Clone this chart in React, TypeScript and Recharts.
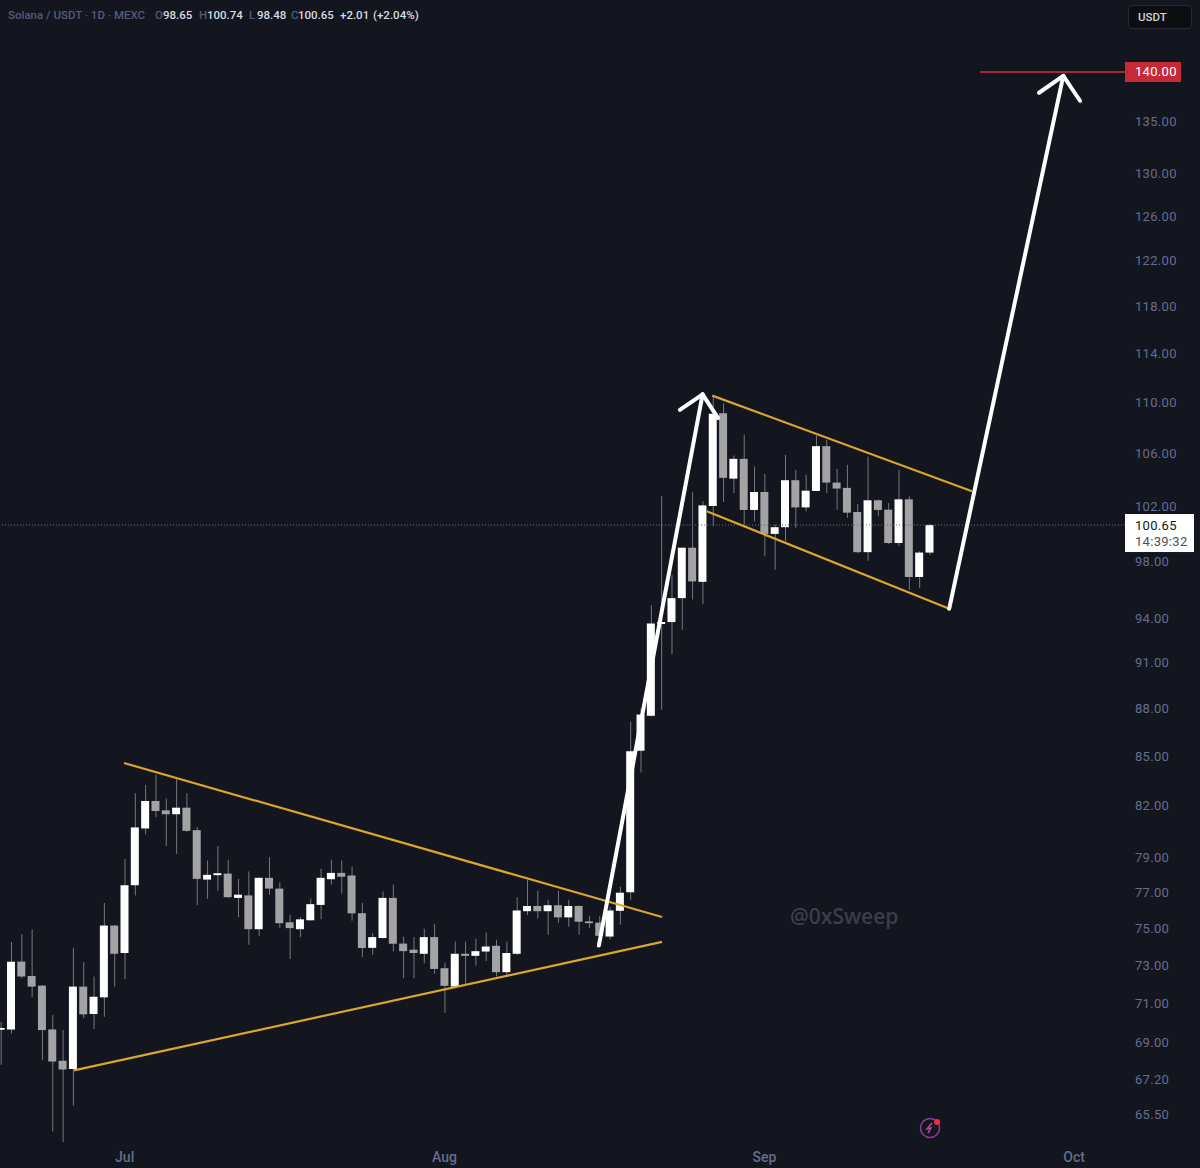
import { Bar, Cell, ComposedChart, ReferenceLine, XAxis, YAxis } from "recharts";

const BG = "#13151f";
const AXIS_TEXT = "#666d8d";
const YELLOW = "#d9a62e";
const FONT = "Roboto, sans-serif";

// daily candles, first one is 12 days before Jul 1
const firstDay = -12;
const opens = [
	69.69, 69.7, 73.23, 72.47, 71.96, 69.7, 68.13, 67.72, 71.91, 70.49,
	71.35, 75.18, 73.69, 77.42, 80.69, 82.32, 81.76, 81.53, 81.92, 80.59,
	77.74, 77.99, 78.08, 76.71, 76.85, 74.98, 77.84, 77.23, 75.36, 74.98,
	75.47, 76.32, 77.76, 78.12, 77.97, 75.86, 73.97, 74.5, 76.71, 74.2,
	73.87, 73.65, 74.55, 72.88, 71.91, 73.65, 73.54, 73.77, 74.08, 72.67,
	73.65, 75.97, 76.26, 75.97, 76.3, 75.63, 76.26, 75.41, 75.34, 74.58,
	75.99, 77.02, 85.39, 87.6, 93.65, 93.78, 95.43, 99, 96.57, 102.05,
	109.19, 104.11, 105.62, 101.76, 103.1, 100, 100.49, 103.99, 101.95, 103.18,
	106.6, 103.81, 103.41, 101.61, 98.68, 102.48, 101.78, 99.34, 102.55, 96.91,
	98.65,
];
const highs = [
	70.09, 74.28, 74.71, 74.98, 72.0, 70.44, 69.67, 73.96, 73.2, 72.44,
	76.42, 75.2, 78.92, 82.78, 83.29, 83.9, 82.47, 83.64, 82.78, 80.78,
	78.83, 79.66, 78.87, 77.78, 78.2, 77.86, 79.02, 77.59, 75.76, 75.63,
	76.68, 78.35, 78.87, 78.83, 78.49, 76.42, 74.77, 77.07, 77.46, 74.58,
	74.55, 75, 75.27, 73.18, 74.31, 74.31, 74.46, 74.8, 74.4, 74.31,
	76.75, 77.72, 77.11, 76.6, 77.11, 76.6, 76.3, 75.7, 75.7, 76.2,
	77.34, 87.21, 88.08, 94.93, 102.78, 97.07, 99.02, 103.08, 102.4, 110.64,
	109.98, 105.87, 107.49, 105.04, 104.46, 100.69, 105.92, 104.79, 104.41, 107.44,
	107.1, 104.87, 105.17, 102.2, 105.8, 102.53, 102.27, 104.79, 102.78, 98.75,
	100.74,
];
const lows = [
	67.93, 69.5, 72.35, 71.35, 68.17, 64.71, 64.2, 65.94, 70.27, 69.72,
	70.35, 71.91, 72.3, 76.84, 80.34, 81.37, 79.65, 79.22, 80.5, 76.3,
	76.66, 77.11, 76.72, 75.63, 74.13, 74.62, 76.89, 75.04, 73.37, 74.55,
	75.44, 75.52, 77.46, 76.96, 75.45, 73.47, 73.6, 74.47, 73.77, 72.35,
	72.35, 73.15, 72.58, 70.55, 71.88, 72.05, 73.02, 73.27, 72.44, 72.44,
	73.58, 75.76, 75.57, 74.68, 75.34, 75.12, 74.68, 75.04, 74.04, 74.44,
	75.22, 76.6, 84.04, 87.55, 87.98, 91.6, 93.25, 95.34, 95, 100.56,
	102.36, 103.03, 100.69, 100.93, 98.39, 97.43, 99.48, 100.44, 101.66, 103.15,
	103.03, 101.78, 101.18, 98.6, 98.07, 101.3, 99.25, 99.12, 96, 96.14,
	98.48,
];
const closes = [
	69.77, 73.23, 72.44, 71.91, 69.67, 68.09, 67.69, 71.91, 70.47, 71.38,
	75.18, 73.65, 77.42, 80.75, 82.32, 81.72, 81.53, 81.92, 80.55, 77.78,
	78.01, 78.1, 76.75, 76.89, 74.98, 77.84, 77.23, 75.31, 75.04, 75.52,
	76.36, 77.84, 78.12, 77.9, 75.85, 73.96, 74.55, 76.71, 74.19, 73.79,
	73.69, 74.55, 72.84, 71.95, 73.65, 73.54, 73.79, 74.04, 72.67, 73.69,
	76.01, 76.26, 75.97, 76.3, 75.63, 76.26, 75.39, 75.31, 74.62, 76.01,
	77, 85.36, 87.67, 93.69, 93.78, 95.43, 99, 96.6, 102.1, 109.14,
	104.17, 105.62, 101.76, 103.1, 100, 100.49, 103.99, 101.95, 103.2, 106.6,
	103.81, 103.36, 101.56, 98.68, 102.48, 101.76, 99.34, 102.55, 96.91, 98.65,
	100.65,
];

const priceTicks = [
	140, 135, 130, 126, 122, 118, 114, 110, 106, 102, 98, 94, 91, 88, 85, 82, 79,
	77, 75, 73, 71, 69, 67.2, 65.5,
];
const monthTicks = [0, 31, 62, 92];
const monthLabels = ["Jul", "Aug", "Sep", "Oct"];

// drawn lines as [day, price] pairs
const triangleTop = [[-0.07, 84.63], [52.07, 75.65]];
const triangleBottom = [[-4.91, 67.65], [52.07, 74.29]];
const channelTop = [[56.94, 110.6], [82.1, 103.15]];
const channelBottom = [[56.4, 101.66], [79.9, 94.7]];
const firstArrow = [[45.95, 74.1], [56.0, 110.7]];
const firstArrowLeft = [[53.8, 109.45], [56.0, 110.7]];
const firstArrowRight = [[57.5, 108.8], [56.0, 110.7]];
const secondArrow = [[79.9, 94.7], [90.95, 139.6]];
const secondArrowLeft = [[88.6, 137.9], [90.95, 139.6]];
const secondArrowRight = [[92.57, 137.1], [90.95, 139.6]];
const targetLine = [[82.9, 140], [96.93, 140]];

const lastPrice = 100.65;
const dayDomain = [-12.08, 96.93];
const priceDomain = [64.12, 147.54];

const candles = opens.map((open, i) => ({
	day: firstDay + i,
	body: [Math.min(open, closes[i]), Math.max(open, closes[i])],
	wick: [lows[i], highs[i]],
	up: closes[i] >= open,
}));

const seg = (pts: number[][]) =>
	pts.map((p) => ({ x: p[0], y: p[1] })) as any;

const PriceTick = ({ x, y, payload }: any) => {
	const label = payload.value.toFixed(2);
	if (payload.value === 140) {
		return (
			<g>
				<rect x={x} y={y - 10} width={56} height={20} fill="#c42a37" />
				<text x={x + 10} y={y + 4} fill="#fff" fontSize={13} letterSpacing={0.3} fontFamily={FONT}>
					{label}
				</text>
			</g>
		);
	}
	return (
		<text x={x + 10} y={y + 4} fill={AXIS_TEXT} fontSize={13} letterSpacing={0.3} fontFamily={FONT}>
			{label}
		</text>
	);
};

const LastPriceLabel = ({ viewBox }: any) => {
	const left = viewBox.x + viewBox.width;
	const y = viewBox.y;
	return (
		<g>
			<rect x={left} y={y - 11} width={69} height={38} fill="#fff" />
			<text x={left + 10} y={y + 5} fill="#131722" fontSize={13} letterSpacing={0.3} fontFamily={FONT}>
				100.65
			</text>
			<text x={left + 10} y={y + 21} fill="#4c5058" fontSize={13} letterSpacing={0.3} fontFamily={FONT}>
				14:39:32
			</text>
		</g>
	);
};

const headerPieces = [
	{ text: "Solana / USDT · 1D · MEXC", left: 8, color: "#545c7c" },
	{ text: "O", left: 155, color: "#545c7c" },
	{ text: "98.65", left: 163, color: "#d8dae2" },
	{ text: "H", left: 199, color: "#545c7c" },
	{ text: "100.74", left: 207, color: "#d8dae2" },
	{ text: "L", left: 249, color: "#545c7c" },
	{ text: "98.48", left: 257, color: "#d8dae2" },
	{ text: "C", left: 291, color: "#545c7c" },
	{ text: "100.65", left: 298, color: "#d8dae2" },
	{ text: "+2.01", left: 340, color: "#d8dae2" },
	{ text: "(+2.04%)", left: 373, color: "#d8dae2" },
];

const App = () => {
	const yellowLines = [triangleTop, triangleBottom, channelTop, channelBottom];
	const whiteLines = [
		firstArrow,
		firstArrowLeft,
		firstArrowRight,
		secondArrow,
		secondArrowLeft,
		secondArrowRight,
	];
	return (
		<div
			style={{
				position: "absolute",
				left: 0,
				top: 0,
				width: 1200,
				height: 1168,
				background: BG,
				overflow: "hidden",
			}}
		>
			<ComposedChart
				width={1200}
				height={1168}
				data={candles}
				margin={{ top: 0, right: 0, bottom: 0, left: 0 }}
			>
				<XAxis
					xAxisId="body"
					dataKey="day"
					type="number"
					domain={dayDomain}
					allowDataOverflow
					ticks={monthTicks}
					interval={0}
					tickFormatter={(d: number) => monthLabels[monthTicks.indexOf(d)]}
					axisLine={false}
					tickLine={false}
					tickSize={0}
					tickMargin={8}
					height={24}
					tick={{ fill: AXIS_TEXT, fontSize: 14, fontWeight: 500, fontFamily: FONT }}
				/>
				<XAxis
					xAxisId="wick"
					dataKey="day"
					type="number"
					domain={dayDomain}
					allowDataOverflow
					hide
				/>
				<YAxis
					orientation="right"
					scale="log"
					domain={priceDomain}
					allowDataOverflow
					ticks={priceTicks}
					interval={0}
					width={75}
					axisLine={false}
					tickLine={false}
					tickSize={0}
					tickMargin={0}
					tick={<PriceTick />}
				/>
				<Bar
					xAxisId="wick"
					dataKey="wick"
					barSize={1}
					fill="#76787f"
					isAnimationActive={false}
				/>
				<Bar
					xAxisId="body"
					dataKey="body"
					barSize={8}
					isAnimationActive={false}
				>
					{candles.map((c) => (
						<Cell key={c.day} fill={c.up ? "#ffffff" : "#a3a3a5"} />
					))}
				</Bar>
				<ReferenceLine
					xAxisId="body"
					y={lastPrice}
					stroke="#6a6d78"
					strokeDasharray="1 2"
					label={<LastPriceLabel />}
				/>
				<ReferenceLine
					xAxisId="body"
					segment={seg(targetLine)}
					stroke="#a92631"
					strokeWidth={2}
				/>
				{yellowLines.map((pts, i) => (
					<ReferenceLine
						key={i}
						xAxisId="body"
						segment={seg(pts)}
						stroke={YELLOW}
						strokeWidth={2.2}
					/>
				))}
				{whiteLines.map((pts, i) => (
					<ReferenceLine
						key={i}
						xAxisId="body"
						segment={seg(pts)}
						stroke="#ffffff"
						strokeWidth={4}
						strokeLinecap="round"
					/>
				))}
			</ComposedChart>

			{headerPieces.map((p) => (
				<span
					key={p.left}
					style={{
						position: "absolute",
						left: p.left,
						top: 8,
						color: p.color,
						fontFamily: FONT,
						fontSize: 11.5,
						fontWeight: 500,
						lineHeight: "15px",
						whiteSpace: "nowrap",
					}}
				>
					{p.text}
				</span>
			))}
			<div
				style={{
					position: "absolute",
					left: 1128,
					top: 5,
					width: 64,
					height: 24,
					boxSizing: "border-box",
					background: "#0d0e12",
					border: "1px solid #262933",
					borderRadius: 4,
					color: "#d1d4dc",
					fontFamily: FONT,
					fontSize: 11.5,
					fontWeight: 500,
					lineHeight: "22px",
					paddingLeft: 9,
				}}
			>
				USDT
			</div>
			<div
				style={{
					position: "absolute",
					left: 790,
					top: 904,
					color: "#3a3e4c",
					fontFamily: "'Open Sans', sans-serif",
					fontSize: 21,
					fontWeight: 600,
					lineHeight: "24px",
				}}
			>
				@0xSweep
			</div>
			<svg
				width={30}
				height={30}
				style={{ position: "absolute", left: 915, top: 1113 }}
			>
				<circle cx={15} cy={15} r={9.5} fill="none" stroke="#8f3c96" strokeWidth={1.6} />
				<path d="M17 10 L12 16 L16 15 L13 20" fill="none" stroke="#b2479f" strokeWidth={1.5} />
				<circle cx={22} cy={9} r={3} fill="#ee2b47" />
			</svg>
		</div>
	);
};

export default App;
